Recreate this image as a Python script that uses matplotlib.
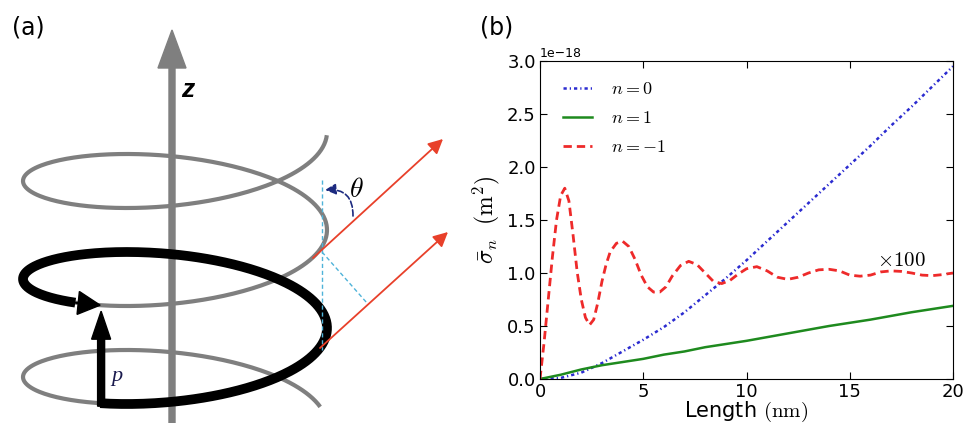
import numpy as np
import matplotlib.pyplot as plt

plt.rcParams['mathtext.fontset'] = 'cm'

# --- dados do painel (b): comprimento (nm) x secao de choque (1e-18 m^2) ---
length_n0 = [0, 1, 2, 3, 4, 5, 6, 7, 8, 9, 10, 11, 12, 13, 14, 15, 16, 17, 18, 19, 20]
sigma_n0 = [0.0, 0.01, 0.06, 0.15, 0.26, 0.37, 0.49, 0.63, 0.79, 0.95, 1.12,
            1.30, 1.48, 1.66, 1.84, 2.02, 2.20, 2.39, 2.57, 2.76, 2.95]

length_n1 = [0, 1, 2, 3, 4, 5, 6, 7, 8, 9, 10, 12, 14, 16, 18, 20]
sigma_n1 = [0.0, 0.04, 0.09, 0.13, 0.16, 0.19, 0.23, 0.26, 0.30, 0.33, 0.36,
            0.43, 0.50, 0.56, 0.63, 0.69]

length_nm1 = [0.0, 0.2, 0.4, 0.6, 0.8, 1.0, 1.2, 1.4, 1.6, 1.8, 2.0, 2.2, 2.4, 2.6,
              2.8, 3.0, 3.2, 3.4, 3.7, 4.0, 4.3, 4.6, 4.9, 5.2, 5.5, 5.8, 6.1, 6.4,
              6.8, 7.2, 7.6, 8.0, 8.4, 8.8, 9.2, 9.6, 10.0, 10.5, 11.0, 11.5, 12.0,
              12.5, 13.0, 13.5, 14.0, 14.5, 15.0, 15.5, 16.0, 16.5, 17.0, 17.5,
              18.0, 18.5, 19.0, 19.5, 20.0]
sigma_nm1 = [0.0, 0.35, 0.75, 1.15, 1.50, 1.73, 1.80, 1.68, 1.36, 1.01, 0.75, 0.58,
             0.51, 0.56, 0.72, 0.92, 1.08, 1.20, 1.28, 1.30, 1.25, 1.13, 0.98, 0.87,
             0.82, 0.82, 0.87, 0.97, 1.07, 1.11, 1.08, 1.00, 0.92, 0.90, 0.93, 0.99,
             1.04, 1.06, 1.02, 0.96, 0.94, 0.96, 1.00, 1.03, 1.035, 1.02, 0.98, 0.97,
             0.98, 1.01, 1.02, 1.015, 1.00, 0.98, 0.975, 0.985, 1.00]

ESCALA = 1e-18

# --- geometria do painel (a), em pixels da figura ---
HELICE_CX = 175
HELICE_R = 152
HELICE_B = 49
HELICE_PASSO = 98
HELICE_Y0 = 132

COR_CINZA = '#7f7f7f'
COR_VERMELHO = '#e8402a'
COR_CIANO = '#4fb3d9'
COR_AZUL_ESC = '#1c2a80'


def helice(phi):
    x = HELICE_CX + HELICE_R * np.cos(phi)
    y = HELICE_Y0 + HELICE_PASSO * phi / (2 * np.pi) + HELICE_B * np.sin(phi)
    return x, y


fig = plt.figure(figsize=(9.67, 4.23), dpi=100)

# ================= painel (a) =================
ax_a = fig.add_axes([0, 0, 0.5, 1])
ax_a.set_xlim(0, 483.5)
ax_a.set_ylim(423, 0)
ax_a.axis('off')

phi_cinza = np.linspace(0.05, 6 * np.pi - 0.3, 800)
hx, hy = helice(phi_cinza)
ax_a.plot(hx, hy, color=COR_CINZA, lw=3, solid_capstyle='butt', zorder=1)

# eixo z
ax_a.arrow(172, 423, 0, -393, width=6, head_width=28, head_length=38,
           length_includes_head=True, color=COR_CINZA, zorder=2)
ax_a.text(181, 90, 'z', fontsize=19, fontweight='bold', fontstyle='italic',
          family='Liberation Sans', va='center', ha='left')

# volta em preto
phi_ini = 4 * np.pi + 2.086
phi_fim = 2 * np.pi + 2.086
phi_preto = np.linspace(phi_ini, phi_fim + 0.2, 400)
bx, by = helice(phi_preto)
ax_a.plot(bx, by, color='k', lw=7, solid_capstyle='butt', zorder=3)
x0, y0 = helice(phi_fim + 0.2)
x1, y1 = helice(phi_fim)
ax_a.arrow(x0, y0, x1 - x0, y1 - y0, width=0.5, head_width=23, head_length=22,
           length_includes_head=True, color='k', zorder=4)

# vetor p
xp, yp = helice(phi_ini)
ax_a.arrow(xp + 1, yp + 3, 0, -95, width=7, head_width=19, head_length=28,
           length_includes_head=True, color='k', zorder=4)
ax_a.text(111, 376, 'p', fontsize=16, fontstyle='italic', family='Liberation Serif',
          color='#1a1a4e', va='center', ha='left')

# linhas tracejadas em ciano
ax_a.plot([321.5, 321.5], [180, 350], ls='--', dashes=(3, 2), color=COR_CIANO, lw=1, zorder=5)
ax_a.plot([322, 367], [252, 303], ls='--', dashes=(3, 2), color=COR_CIANO, lw=1, zorder=5)

# raios em vermelho
for base, ponta in [((313, 258), (443, 139)), ((320, 348), (448, 232))]:
    ax_a.annotate('', xy=ponta, xytext=base,
                  arrowprops=dict(arrowstyle='-|>', color=COR_VERMELHO, lw=1.3,
                                  mutation_scale=22, shrinkA=0, shrinkB=0),
                  zorder=6)

# angulo theta
ax_a.annotate('', xy=(325, 190), xytext=(353, 216),
              arrowprops=dict(arrowstyle='-|>', color=COR_AZUL_ESC, lw=1.2, ls='--',
                              mutation_scale=16, shrinkA=0, shrinkB=0,
                              connectionstyle='arc3,rad=0.55'),
              zorder=6)
ax_a.text(356, 189, r'$\theta$', fontsize=20, va='center', ha='center')

fig.text(12 / 967, 1 - 28 / 423, '(a)', fontsize=17, va='center', ha='left')
fig.text(480 / 967, 1 - 28 / 423, '(b)', fontsize=17, va='center', ha='left')

# ================= painel (b) =================
ax_b = fig.add_axes([540 / 967, 44 / 423, 413 / 967, 318 / 423])
ax_b.plot(length_n0, np.array(sigma_n0) * ESCALA, color='#2b2bd0', lw=1.8,
          dashes=(1.3, 1.2, 0.5, 1.2), label=r'$n=0$')
ax_b.plot(length_n1, np.array(sigma_n1) * ESCALA, ls='-', color='#1e8a1e', lw=1.8, label=r'$n=1$')
ax_b.plot(length_nm1, np.array(sigma_nm1) * ESCALA, color='#ee2a2a', lw=2,
          dashes=(3, 1.8), label=r'$n=-1$')

ax_b.set_xlim(0, 20)
ax_b.set_ylim(0, 3.0e-18)
ax_b.set_xticks([0, 5, 10, 15, 20])
ax_b.tick_params(direction='in', top=True, right=True, length=5, labelsize=13, pad=3)
ax_b.yaxis.get_offset_text().set_fontsize(9)

ax_b.text(16.3, 1.12e-18, r'$\times 100$', fontsize=15, va='center', ha='left')

ax_b.set_xlabel(r'Length $(\mathrm{nm})$', fontsize=15, labelpad=-1)
ax_b.set_ylabel(r'$\bar{\sigma}_n\ \ (\mathrm{m}^2)$', fontsize=17, labelpad=4)

ax_b.legend(loc='upper left', bbox_to_anchor=(0.02, 0.985), frameon=False, fontsize=13,
            handlelength=1.6, handletextpad=1.1, labelspacing=0.6, borderaxespad=0.4)

fig.savefig('out.png', dpi=100)
